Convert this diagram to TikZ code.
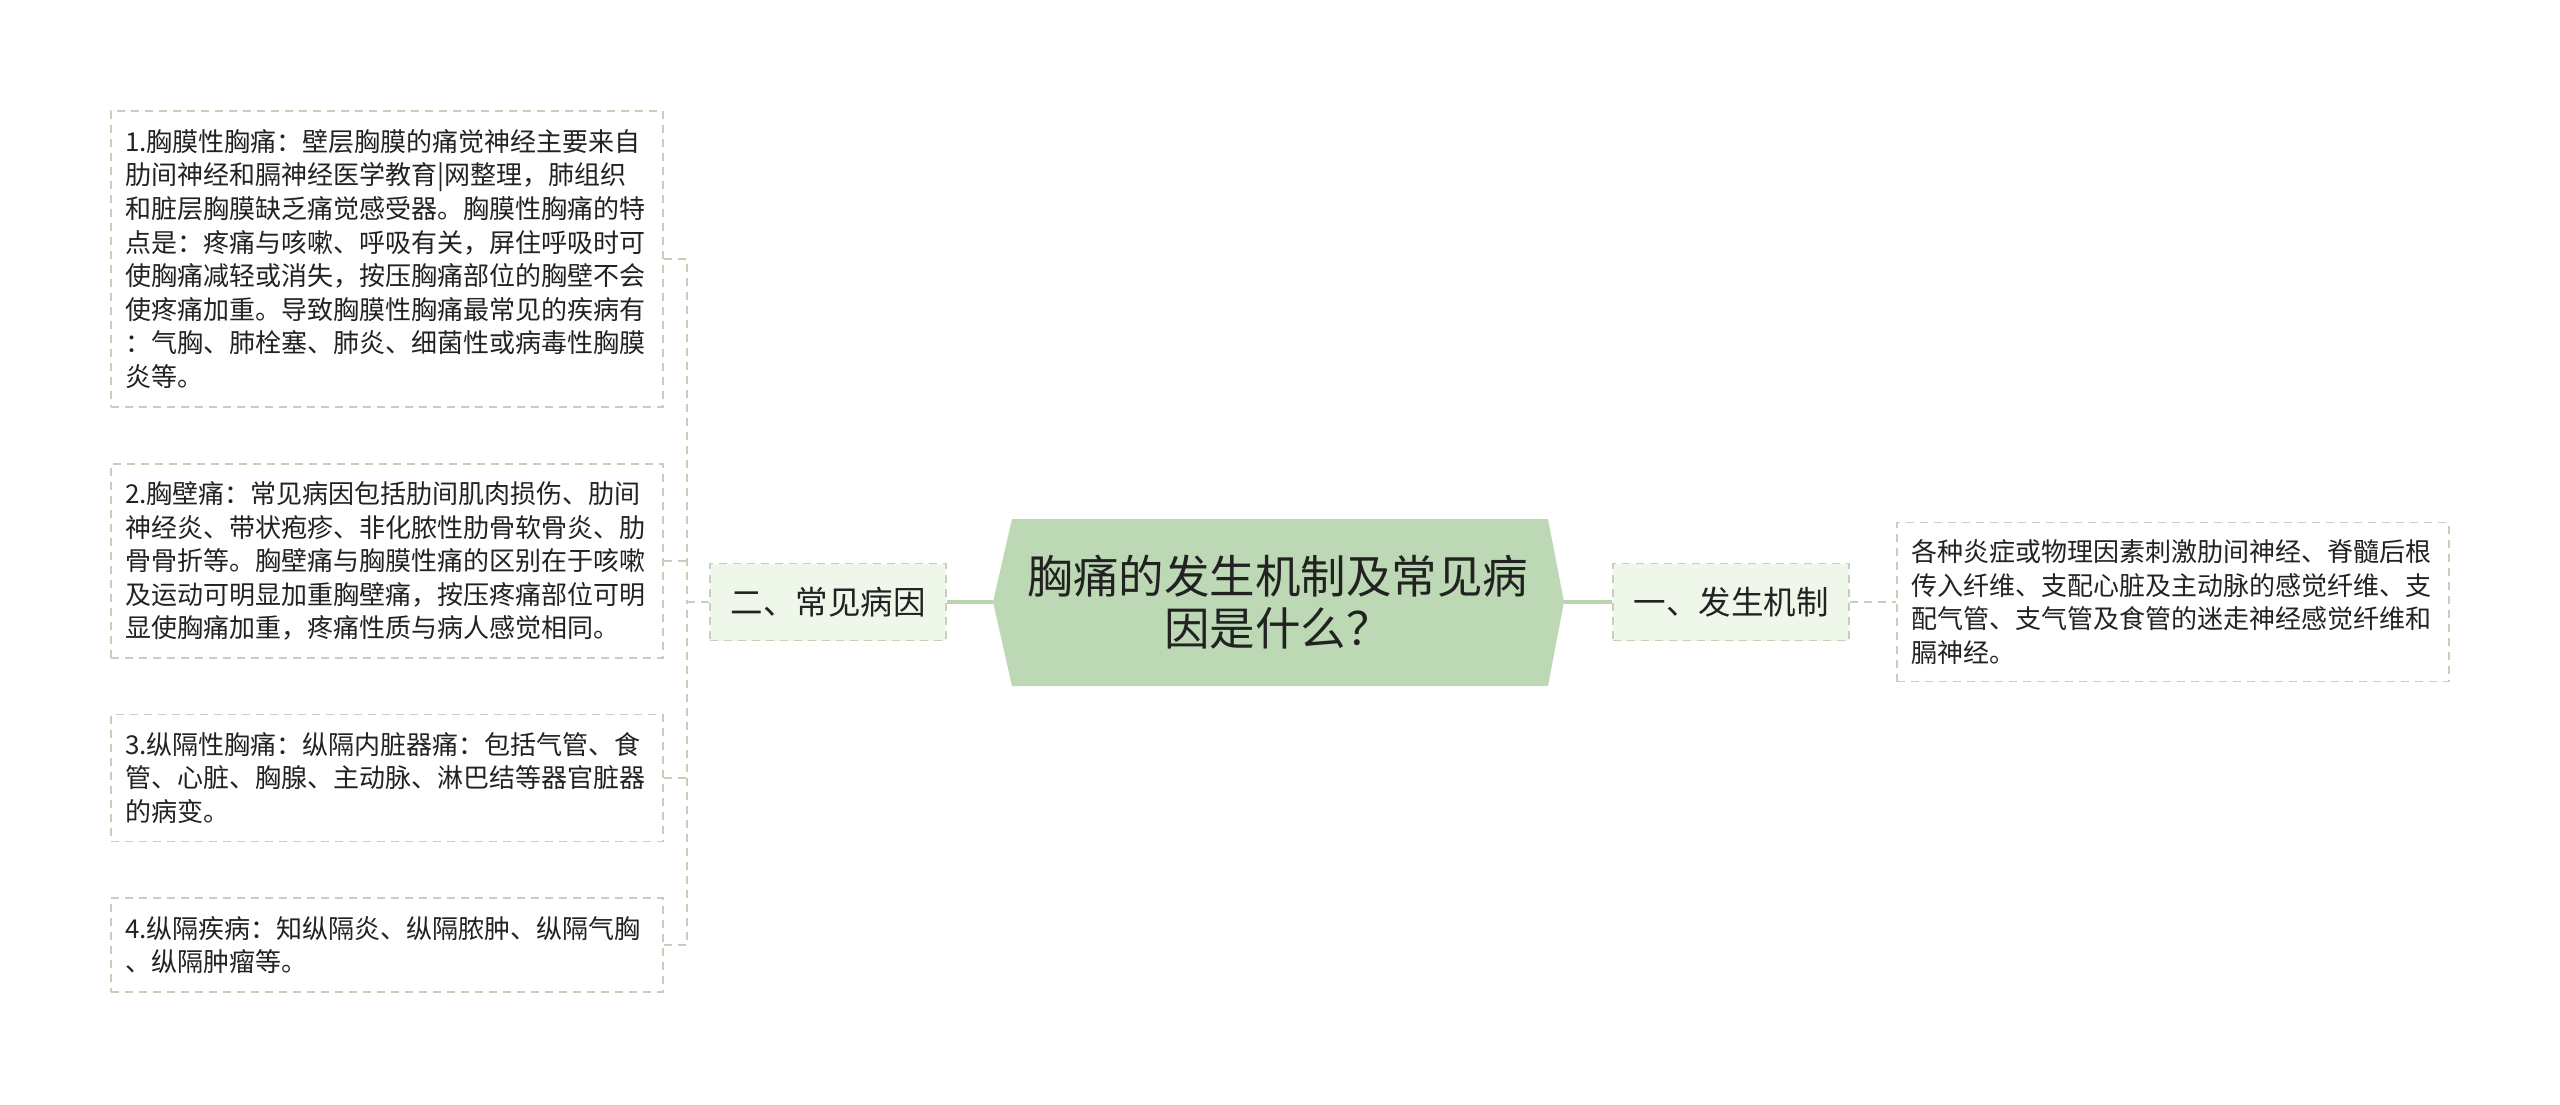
\documentclass[tikz,border=0pt]{standalone}
\usepackage{fontspec}
\setmainfont{Noto Sans CJK SC}
\definecolor{hubfill}{HTML}{BDD8B5}
\definecolor{midfill}{HTML}{EFF6EA}
\definecolor{dashcol}{HTML}{C0D2B8}
\definecolor{linkcol}{HTML}{B7D3AF}
\definecolor{txt}{HTML}{222222}
\tikzset{
  leaf/.style={draw=dashcol, line width=1.6pt, dash pattern=on 8pt off 6pt, fill=white,
    text width=524pt, inner xsep=14pt, inner ysep=0pt, align=left, text=txt,
    font=\fontsize{26}{33.6}\selectfont},
  midnode/.style={draw=dashcol, line width=1.8pt, dash pattern=on 8pt off 6pt, fill=midfill,
    minimum width=236pt, minimum height=77pt, inner sep=0pt, text=txt,
    font=\fontsize{32.5}{40}\selectfont},
  dlink/.style={draw=dashcol, line width=1.8pt, dash pattern=on 8pt off 6pt},
  slink/.style={draw=linkcol, line width=3.5pt}
}
\begin{document}
\begin{tikzpicture}[x=1pt,y=-1pt]
\useasboundingbox (0,0) rectangle (2560,1104);
% center hub
\fill[hubfill] (993,602) -- (1012,519) -- (1548,519) -- (1564,602) -- (1548,686) -- (1012,686) -- cycle;
\node[inner sep=0pt, align=center, text=txt, font=\fontsize{45.5}{52}\selectfont] (hub) at (1278,602) {胸痛的发生机制及常见病\\因是什么？};
\coordinate (hubL) at (993,602);
\coordinate (hubR) at (1564,602);
% level-1 nodes
\node[midnode] (n2) at (828,602) {二、常见病因};
\node[midnode] (n1) at (1731,602) {一、发生机制};
% leaves left
\node[leaf, minimum height=296pt] (b1) at (387,259) {1.胸膜性胸痛：壁层胸膜的痛觉神经主要来自\\肋间神经和膈神经医学教育|网整理，肺组织\\和脏层胸膜缺乏痛觉感受器。胸膜性胸痛的特\\点是：疼痛与咳嗽、呼吸有关，屏住呼吸时可\\使胸痛减轻或消失，按压胸痛部位的胸壁不会\\使疼痛加重。导致胸膜性胸痛最常见的疾病有\\：气胸、肺栓塞、肺炎、细菌性或病毒性胸膜\\炎等。};
\node[leaf, minimum height=194pt] (b2) at (387,561) {2.胸壁痛：常见病因包括肋间肌肉损伤、肋间\\神经炎、带状疱疹、非化脓性肋骨软骨炎、肋\\骨骨折等。胸壁痛与胸膜性痛的区别在于咳嗽\\及运动可明显加重胸壁痛，按压疼痛部位可明\\显使胸痛加重，疼痛性质与病人感觉相同。};
\node[leaf, minimum height=127pt] (b3) at (387,778) {3.纵隔性胸痛：纵隔内脏器痛：包括气管、食\\管、心脏、胸腺、主动脉、淋巴结等器官脏器\\的病变。};
\node[leaf, minimum height=94pt] (b4) at (387,945) {4.纵隔疾病：知纵隔炎、纵隔脓肿、纵隔气胸\\、纵隔肿瘤等。};
% leaf right
\node[leaf, minimum height=159pt] (r1) at (2173,602) {各种炎症或物理因素刺激肋间神经、脊髓后根\\传入纤维、支配心脏及主动脉的感觉纤维、支\\配气管、支气管及食管的迷走神经感觉纤维和\\膈神经。};
% connectors
\draw[slink] (n2.east) -- (hubL);
\draw[slink] (hubR) -- (n1.west);
\draw[dlink] (n1.east) -- (r1.west);
\coordinate (brk) at (687,602);
\draw[dlink] (n2.west) -- (brk);
\draw[dlink] (b1.east) -| (brk);
\draw[dlink] (b4.east) -| (brk);
\draw[dlink] (b2.east) -- (b2.east -| brk);
\draw[dlink] (b3.east) -- (b3.east -| brk);
\end{tikzpicture}
\end{document}
